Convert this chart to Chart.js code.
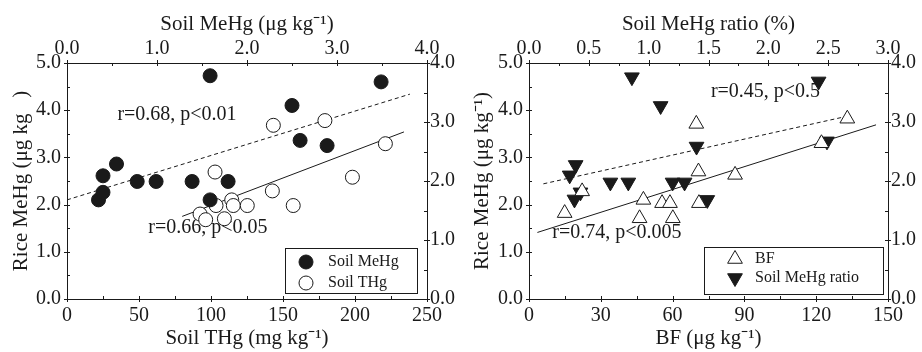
<!DOCTYPE html>
<html>
<head>
<meta charset="utf-8">
<script src="https://cdn.jsdelivr.net/npm/chart.js@4/dist/chart.umd.min.js"></script>
<style>
html, body { margin: 0; padding: 0; background: #fff; }
#wrap { display: flex; width: 922px; height: 352px; }
canvas { display: block; }
</style>
</head>
<body>
<div id="wrap">
  <canvas id="c1" width="461" height="352"></canvas>
  <canvas id="c2" width="461" height="352"></canvas>
</div>
<script>
// left panel: rice MeHg vs soil MeHg (top axis) and soil THg (bottom axis)
const soilMeHg      = [0.35, 0.40, 0.40, 0.55, 0.78, 0.99, 1.39, 1.59, 1.59, 1.79, 2.50, 2.59, 2.89, 3.49];
const riceMeHgA     = [2.10, 2.26, 2.61, 2.86, 2.49, 2.49, 2.49, 4.73, 2.10, 2.49, 4.10, 3.36, 3.25, 4.60];
const soilTHg       = [92.4, 96.3, 102.8, 103.5, 109.3, 114.4, 115.5, 125.2, 142.6, 143.3, 157.1, 179.1, 198.2, 221.1];
const riceMeHgB     = [1.80, 1.68, 2.69, 1.98, 1.70, 2.10, 1.98, 1.98, 2.29, 3.68, 1.98, 3.78, 2.58, 3.29];
const fitMeHgX      = [0, 3.81];
const fitMeHgY      = [2.10, 4.34];
const fitTHgX       = [80, 234];
const fitTHgY       = [1.75, 3.54];

// right panel: rice MeHg vs BF (bottom axis) and soil MeHg ratio (top axis)
const bf            = [14.9, 22.2, 46.2, 47.8, 55.6, 58.9, 60.1, 69.9, 70.8, 71.0, 86.1, 122.2, 133.0];
const riceMeHgC     = [1.82, 2.28, 1.71, 2.10, 2.03, 2.03, 1.71, 3.71, 2.70, 2.03, 2.63, 3.30, 3.82];
const meHgRatio     = [0.86, 1.10, 0.34, 0.39, 0.38, 0.43, 0.68, 0.83, 1.20, 1.30, 1.40, 1.49, 2.42, 2.49];
const riceMeHgD     = [4.70, 4.09, 2.62, 2.84, 2.11, 2.26, 2.47, 2.47, 2.47, 2.47, 3.23, 2.10, 4.61, 3.34];
const fitRatioX     = [0.12, 2.69];
const fitRatioY     = [2.44, 3.89];
const fitBfX        = [3.5, 145];
const fitBfY        = [1.41, 3.69];

const INK = '#1a1a1a';
const SERIF = '"Liberation Serif", "Times New Roman", serif';

function pts(xs, ys) { return xs.map((x, i) => ({ x: x, y: ys[i] })); }

// tick marks: major ones cross the axis line, minor ones point inward
const tickPlugin = {
  id: 'axisTicks',
  afterDatasetsDraw(chart, args, opts) {
    const ctx = chart.ctx, a = chart.chartArea;
    ctx.save();
    ctx.strokeStyle = INK;
    ctx.lineWidth = 1;
    for (const id of Object.keys(chart.scales)) {
      const s = chart.scales[id];
      const minor = opts.minor[id];
      const major = s.options.ticks.stepSize;
      const n = Math.round((s.max - s.min) / minor);
      for (let k = 0; k <= n; k++) {
        const v = s.min + k * minor;
        const isMajor = Math.abs(v / major - Math.round(v / major)) < 1e-6;
        const p = Math.round(s.getPixelForValue(v)) + 0.5;
        const out = isMajor ? 3 : 0, inn = 3;
        ctx.beginPath();
        if (s.position === 'bottom') { ctx.moveTo(p, a.bottom + out); ctx.lineTo(p, a.bottom - inn); }
        else if (s.position === 'top') { ctx.moveTo(p, a.top - out); ctx.lineTo(p, a.top + inn); }
        else if (s.position === 'left') { ctx.moveTo(a.left - out, p); ctx.lineTo(a.left + inn, p); }
        else { ctx.moveTo(a.right + out, p); ctx.lineTo(a.right - inn, p); }
        ctx.stroke();
      }
    }
    ctx.restore();
  }
};

// r / p annotations placed in data units
const notePlugin = {
  id: 'notes',
  beforeDatasetsDraw(chart, args, opts) {
    const ctx = chart.ctx;
    ctx.save();
    ctx.fillStyle = INK;
    ctx.font = '20px ' + SERIF;
    ctx.textAlign = 'left';
    ctx.textBaseline = 'middle';
    for (const n of opts.items) {
      ctx.fillText(n.text, chart.scales.x.getPixelForValue(n.x), chart.scales.y.getPixelForValue(n.y));
    }
    ctx.restore();
  }
};

// boxed legend drawn with the datasets' own point styles
const legendPlugin = {
  id: 'boxLegend',
  afterDraw(chart, args, opts) {
    const ctx = chart.ctx, b = opts.box;
    ctx.save();
    ctx.strokeStyle = INK;
    ctx.lineWidth = 1;
    ctx.strokeRect(b[0] + 0.5, b[1] + 0.5, b[2], b[3]);
    ctx.font = '16px ' + SERIF;
    ctx.textBaseline = 'middle';
    opts.rows.forEach((r, i) => {
      const ds = chart.data.datasets[r.ds];
      const y = b[1] + opts.rowY[i];
      ctx.fillStyle = ds.pointBackgroundColor;
      ctx.strokeStyle = INK;
      ctx.lineWidth = 1;
      Chart.helpers.drawPoint(ctx, {
        pointStyle: ds.pointStyle, radius: ds.pointRadius,
        rotation: ds.pointRotation || 0, borderWidth: 1
      }, b[0] + opts.markX, y);
      ctx.fillStyle = INK;
      ctx.fillText(ds.label, b[0] + opts.textX, y);
    });
    ctx.restore();
  }
};

function axis(pos, min, max, step, digits, size, title, pad) {
  const horiz = pos === 'top' || pos === 'bottom';
  const tickPad = { bottom: 5, top: 2, left: 6, right: 3 }[pos];
  return {
    type: 'linear', position: pos, min: min, max: max,
    grid: { display: false, drawTicks: false },
    border: { display: true, color: INK, width: 1 },
    afterFit(s) { if (horiz) s.height = size; else s.width = size; },
    ticks: {
      stepSize: step, autoSkip: false, maxRotation: 0,
      color: INK, font: { family: SERIF, size: 20 },
      padding: tickPad,
      callback: v => Number(v).toFixed(digits)
    },
    title: title ? {
      display: true, text: title, color: INK,
      font: { family: SERIF, size: 21 }, padding: pad
    } : { display: false }
  };
}

function scatter(label, data, xAxis, style, fill, radius, rot) {
  return {
    type: 'scatter', label: label, data: data, xAxisID: xAxis, yAxisID: 'y',
    pointStyle: style, pointRadius: radius, pointHoverRadius: radius,
    pointRotation: rot || 0,
    pointBackgroundColor: fill, pointBorderColor: INK, pointBorderWidth: 1, order: 1
  };
}

function fitLine(data, xAxis, dash) {
  return {
    type: 'line', data: data, xAxisID: xAxis, yAxisID: 'y',
    borderColor: INK, borderWidth: 1, borderDash: dash, pointRadius: 0,
    fill: false, order: 2
  };
}

const common = {
  responsive: false, animation: false,
  layout: { padding: 0 },
  plugins: { legend: { display: false }, tooltip: { enabled: false } }
};

new Chart(document.getElementById('c1'), {
  data: {
    datasets: [
      scatter('Soil MeHg', pts(soilMeHg, riceMeHgA), 'x2', 'circle', INK, 7),
      scatter('Soil THg', pts(soilTHg, riceMeHgB), 'x', 'circle', '#fff', 7),
      fitLine(pts(fitMeHgX, fitMeHgY), 'x2', [4, 3]),
      fitLine(pts(fitTHgX, fitTHgY), 'x', [])
    ]
  },
  options: Object.assign({}, common, {
    scales: {
      x: axis('bottom', 0, 250, 50, 0, 53, 'Soil THg (mg kg\u207B\u00B9)', { top: 0, bottom: 1 }),
      x2: axis('top', 0, 4, 1, 1, 63, 'Soil MeHg (\u03BCg kg\u207B\u00B9)', { top: 12, bottom: 0 }),
      y: axis('left', 0, 5, 1, 1, 67, 'Rice MeHg (\u03BCg kg   )', { top: 9, bottom: 0 }),
      y2: axis('right', 0, 4, 1, 1, 34, null)
    },
    plugins: Object.assign({}, common.plugins, {
      axisTicks: { minor: { x: 25, x2: 0.5, y: 0.5, y2: 0.5 } },
      notes: { items: [
        { text: 'r=0.68, p<0.01', x: 35, y: 3.9 },
        { text: 'r=0.66, p<0.05', x: 56.5, y: 1.5 }
      ] },
      boxLegend: { box: [285, 248, 132, 45], markX: 21, textX: 43, rowY: [14, 35],
        rows: [{ ds: 0 }, { ds: 1 }] }
    })
  }),
  plugins: [tickPlugin, notePlugin, legendPlugin]
});

new Chart(document.getElementById('c2'), {
  data: {
    datasets: [
      scatter('BF', pts(bf, riceMeHgC), 'x', 'triangle', '#fff', 8.5),
      scatter('Soil MeHg ratio', pts(meHgRatio, riceMeHgD), 'x2', 'triangle', INK, 8.5, 180),
      fitLine(pts(fitRatioX, fitRatioY), 'x2', [4, 3]),
      fitLine(pts(fitBfX, fitBfY), 'x', [])
    ]
  },
  options: Object.assign({}, common, {
    scales: {
      x: axis('bottom', 0, 150, 30, 0, 53, 'BF (\u03BCg kg\u207B\u00B9)', { top: 0, bottom: 1 }),
      x2: axis('top', 0, 3, 0.5, 1, 63, 'Soil MeHg ratio (%)', { top: 12, bottom: 0 }),
      y: axis('left', 0, 5, 1, 1, 68, 'Rice MeHg (\u03BCg kg\u207B\u00B9)', { top: 9, bottom: 0 }),
      y2: axis('right', 0, 4, 1, 1, 34, null)
    },
    plugins: Object.assign({}, common.plugins, {
      axisTicks: { minor: { x: 15, x2: 0.25, y: 0.5, y2: 0.5 } },
      notes: { items: [
        { text: 'r=0.45, p<0.5', x: 76, y: 4.39 },
        { text: 'r=0.74, p<0.005', x: 9.7, y: 1.40 }
      ] },
      boxLegend: { box: [243, 247, 179, 47], markX: 31, textX: 51, rowY: [12, 31],
        rows: [{ ds: 0 }, { ds: 1 }] }
    })
  }),
  plugins: [tickPlugin, notePlugin, legendPlugin]
});
</script>
</body>
</html>
